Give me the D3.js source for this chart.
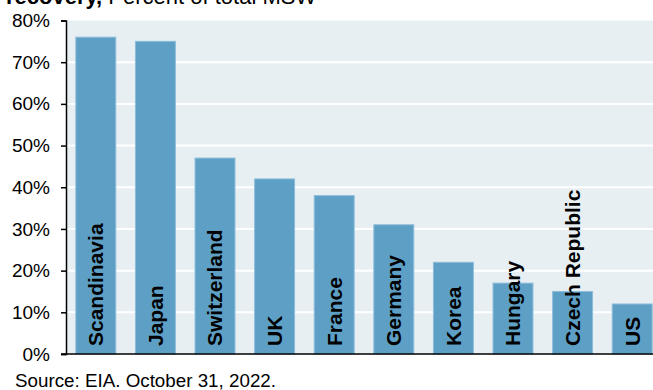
<!DOCTYPE html>
<html>
    <head>
        <title>Waste recovery</title>
        <meta charset="UTF-8">
        <script type="text/javascript" src="https://cdn.jsdelivr.net/npm/d3@7"></script>
        <style type="text/css">
            body { margin: 0; background: #fff; }
            text { font-family: "Liberation Sans", Arial, sans-serif; }
        </style>
    </head>
    <body>
        <div id="chart"></div>

        <script type="text/javascript">

            var svgW = 653; //svg width
            var svgH = 390; //svg height

            // data
            var countries = ["Scandinavia", "Japan", "Switzerland", "UK", "France",
                "Germany", "Korea", "Hungary", "Czech Republic", "US"];
            var recoveryPct = [76, 75, 47, 42, 38, 31, 22, 17, 15, 12];
            var yTicks = [0, 10, 20, 30, 40, 50, 60, 70, 80];
            var titleBold = "recovery,";
            var titleRest = " Percent of total MSW";
            var sourceNote = "Source: EIA. October 31, 2022.";

            var plotL = 66, plotT = 20.5, plotB = 354;

            var x = d3.scaleBand()
                    .domain(countries)
                    .range([plotL, 662])
                    .paddingInner(0.33)
                    .paddingOuter(0.165);
            var y = d3.scaleLinear()
                    .domain([0, 80])
                    .range([plotB, plotT]);

            var svg = d3.select("#chart").append("svg")
                    .attr("width", svgW)
                    .attr("height", svgH);

            // plot background
            svg.append("rect")
                    .attr("x", plotL)
                    .attr("y", plotT)
                    .attr("width", svgW - plotL)
                    .attr("height", plotB - plotT)
                    .attr("fill", "#e7eff3");

            // gridlines
            svg.append("g").selectAll("line")
                    .data(yTicks.filter(function (d) { return d > 0 && d < 80; }))
                    .enter().append("line")
                    .attr("x1", plotL)
                    .attr("x2", svgW)
                    .attr("y1", function (d) { return y(d); })
                    .attr("y2", function (d) { return y(d); })
                    .attr("stroke", "#ffffff")
                    .attr("stroke-width", 2);

            // bars
            svg.append("g").selectAll("rect")
                    .data(countries)
                    .enter().append("rect")
                    .attr("x", function (d) { return x(d); })
                    .attr("y", function (d, i) { return y(recoveryPct[i]); })
                    .attr("width", x.bandwidth())
                    .attr("height", function (d, i) { return plotB - y(recoveryPct[i]); })
                    .attr("fill", "#5d9fc5")
                    .attr("stroke", "#8dbdd9")
                    .attr("stroke-width", 1);

            // rotated category labels inside bars
            svg.append("g").selectAll("text")
                    .data(countries)
                    .enter().append("text")
                    .attr("transform", function (d) {
                        return "translate(" + (x(d) + x.bandwidth() / 2) + "," + 346 + ") rotate(-90)";
                    })
                    .attr("dy", "0.35em")
                    .attr("text-anchor", "start")
                    .style("font-size", "21px")
                    .style("font-weight", "bold")
                    .attr("fill", "#000")
                    .text(function (d) { return d; });

            // y axis
            var yAxis = d3.axisLeft(y)
                    .tickValues(yTicks)
                    .tickSize(5)
                    .tickPadding(11)
                    .tickFormat(function (d) { return d + "%"; });
            var gy = svg.append("g")
                    .attr("transform", "translate(" + plotL + ",0)")
                    .call(yAxis);
            gy.select(".domain").attr("stroke", "#000").attr("stroke-width", 1.5);
            gy.selectAll(".tick line").attr("stroke", "#000").attr("stroke-width", 1.5);
            gy.selectAll(".tick text")
                    .style("font-size", "19px")
                    .style("font-family", "'Liberation Sans', Arial, sans-serif")
                    .attr("fill", "#000");

            // x axis baseline
            svg.append("line")
                    .attr("x1", plotL - 5)
                    .attr("x2", svgW)
                    .attr("y1", y(0))
                    .attr("y2", y(0))
                    .attr("stroke", "#000")
                    .attr("stroke-width", 1.5);

            // title (cut off at the top)
            var title = svg.append("text")
                    .attr("x", 6)
                    .attr("y", 4)
                    .style("font-size", "22px")
                    .attr("fill", "#000");
            title.append("tspan").style("font-weight", "bold").text(titleBold);
            title.append("tspan").text(titleRest);

            // source
            svg.append("text")
                    .attr("x", 15)
                    .attr("y", 387)
                    .style("font-size", "18.8px")
                    .attr("fill", "#000")
                    .text(sourceNote);
        </script>
    </body>
</html>
